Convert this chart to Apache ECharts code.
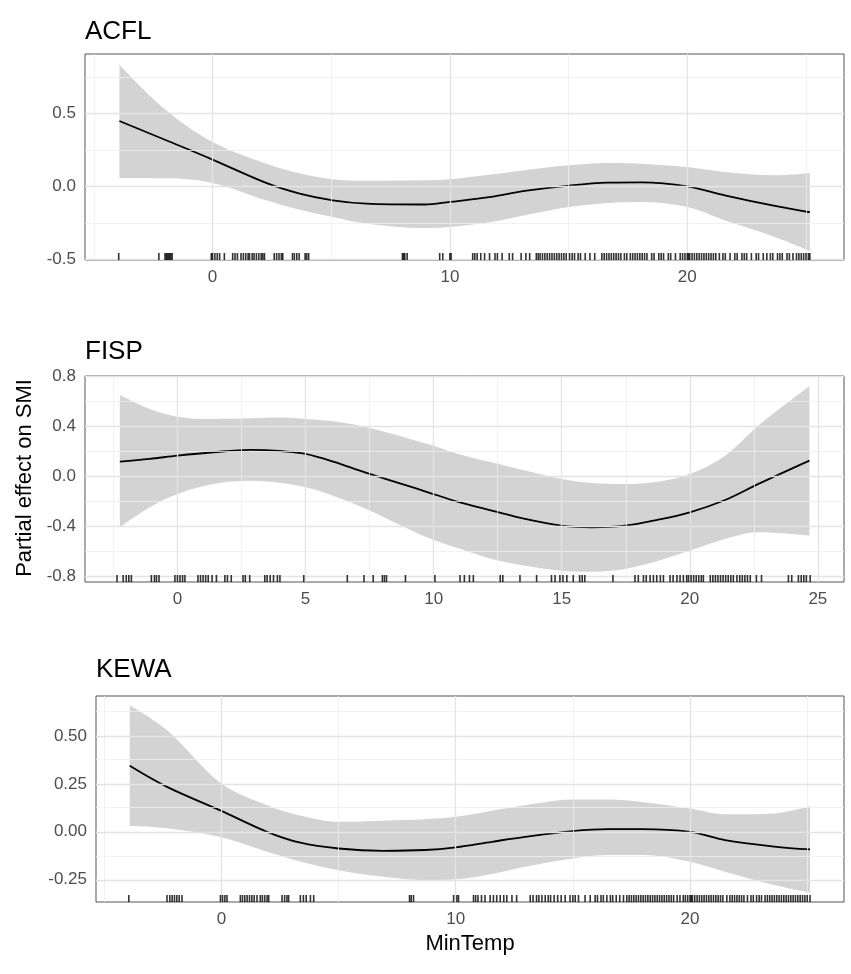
<!DOCTYPE html>
<html><head><meta charset="utf-8">
<script src="https://cdn.jsdelivr.net/npm/echarts@6/dist/echarts.min.js"></script>
<style>html,body{margin:0;padding:0;background:#fff}#c{width:851px;height:974px}</style>
</head><body><div id="c"></div>
<script>
const FONT = '"Liberation Sans", Arial, Helvetica, sans-serif';
const panelTitles = ['ACFL', 'FISP', 'KEWA'];
const xAxisTitle = 'MinTemp';
const yAxisTitle = 'Partial effect on SMI';

// ---- ACFL ----
const acflX     = [-3.92, -1.95, 0, 2.26, 3.67, 5.07, 6.48, 8.93, 10, 11.74, 13.15, 15.02, 16.66, 18.07, 20, 21.58, 23.69, 25.16];
const acflFit   = [0.447, 0.315, 0.183, 0.023, -0.05, -0.096, -0.119, -0.125, -0.107, -0.073, -0.032, 0.005, 0.025, 0.027, 0.0, -0.062, -0.135, -0.178];
const acflUpper = [0.833, 0.52, 0.303, 0.155, 0.09, 0.048, 0.038, 0.041, 0.048, 0.08, 0.11, 0.144, 0.16, 0.155, 0.132, 0.098, 0.075, 0.091];
const acflLower = [0.057, 0.055, 0.023, -0.096, -0.16, -0.21, -0.255, -0.286, -0.279, -0.245, -0.199, -0.142, -0.114, -0.107, -0.142, -0.233, -0.347, -0.443];
const acflRug = [-3.95, -2.26, -2.0, -1.95, -1.9, -1.85, -1.8, -1.75, -1.7, -0.05, 0.0, 0.1, 0.2, 0.3, 0.5, 0.85, 0.95, 1.05, 1.2, 1.3, 1.4, 1.5, 1.56, 1.67, 1.75, 1.85, 1.95, 2.05, 2.12, 2.19, 2.6, 2.7, 2.8, 2.9, 2.96, 3.37, 3.45, 3.55, 3.65, 3.9, 3.97, 4.05, 8.0, 8.05, 8.1, 8.2, 9.57, 9.7, 10.0, 10.05,
  10.96, 11.05, 11.15, 11.3, 11.46, 11.67, 11.9, 12.0, 12.2, 12.5, 12.64, 13.0, 13.2, 13.36, 13.64, 13.72, 13.8, 13.9, 14.0, 14.1, 14.2, 14.3, 14.4, 14.5, 14.6, 14.7, 14.8, 14.9, 15.04, 15.15, 15.25, 15.4, 15.5, 15.7, 15.9, 16.1, 16.4, 16.5, 16.6, 16.7, 16.8, 16.9, 17.0, 17.1, 17.2, 17.35, 17.45, 17.6, 17.7, 17.8, 17.9, 18.0, 18.1, 18.2, 18.3, 18.5, 18.6, 18.8, 18.9, 19.0, 19.2, 19.3, 19.5, 19.7, 19.8, 19.9, 20.0, 20.05, 20.1, 20.2, 20.3, 20.4, 20.5, 20.6, 20.7, 20.8, 20.9, 21.0, 21.1, 21.2, 21.35, 21.5, 21.6, 21.8, 22.0, 22.1, 22.3, 22.4, 22.5, 22.7, 22.9, 23.0, 23.2, 23.35, 23.5, 23.6, 23.8, 23.9, 24.0, 24.2, 24.3, 24.45, 24.6, 24.7, 24.8, 24.9, 25.0, 25.1, 25.16];

// ---- FISP ----
const fispX     = [-2.25, -1.08, 0, 1.39, 2.82, 4.13, 5, 6.08, 7.38, 9.66, 10.96, 12.27, 13.57, 15, 16.17, 17.47, 18.77, 20, 21.38, 22.68, 24.67];
const fispFit   = [0.118, 0.14, 0.166, 0.193, 0.212, 0.201, 0.18, 0.118, 0.027, -0.12, -0.205, -0.275, -0.342, -0.396, -0.409, -0.396, -0.348, -0.289, -0.19, -0.061, 0.126];
const fispUpper = [0.653, 0.541, 0.479, 0.46, 0.465, 0.471, 0.46, 0.441, 0.393, 0.265, 0.18, 0.112, 0.046, -0.021, -0.053, -0.061, -0.043, 0.019, 0.166, 0.407, 0.722];
const fispLower = [-0.409, -0.249, -0.141, -0.061, -0.035, -0.056, -0.088, -0.155, -0.262, -0.483, -0.578, -0.663, -0.717, -0.757, -0.765, -0.743, -0.677, -0.596, -0.502, -0.449, -0.476];
const fispRug = [-2.36, -2.12, -2.0, -1.9, -1.8, -1.02, -0.9, -0.82, -0.72, -0.1, 0.0, 0.1, 0.2, 0.29, 0.8, 0.9, 1.0, 1.1, 1.2, 1.35, 1.52, 1.85, 1.95, 2.1, 2.56, 2.65, 2.82, 3.41, 3.5, 3.62, 3.75, 3.9, 4.0, 4.93, 6.63, 7.28, 7.64, 8.0, 8.08, 8.16, 8.9, 10.05, 11.03, 11.2, 11.4,
  11.55, 12.6, 12.7, 13.37, 14.02, 14.6, 14.74, 14.93, 15.05, 15.2, 15.45, 15.7, 15.8, 15.9, 17.0, 17.86, 17.99, 18.19, 18.3, 18.45, 18.58, 18.71, 18.85, 18.97, 19.23, 19.35, 19.5, 19.62, 19.75, 19.88, 19.95, 20.05, 20.15, 20.25, 20.35, 20.45, 20.53, 20.8, 20.9, 21.0, 21.1, 21.2, 21.3, 21.4, 21.5, 21.6, 21.7, 21.84, 21.95, 22.05, 22.15, 22.25, 22.36, 22.6, 22.8, 23.85, 23.98, 24.24, 24.35, 24.45, 24.55, 24.7];

// ---- KEWA ----
const kewaX     = [-3.91, -2.32, 0, 1.95, 3.37, 5, 6.92, 8.7, 10, 11.54, 12.96, 15, 16.52, 17.94, 20, 21.49, 23.6, 25.12];
const kewaFit   = [0.344, 0.234, 0.109, 0.0, -0.057, -0.087, -0.099, -0.095, -0.081, -0.052, -0.026, 0.004, 0.014, 0.014, 0.0, -0.043, -0.077, -0.092];
const kewaUpper = [0.66, 0.53, 0.252, 0.139, 0.085, 0.052, 0.058, 0.065, 0.078, 0.11, 0.139, 0.169, 0.169, 0.156, 0.122, 0.092, 0.096, 0.134];
const kewaLower = [0.03, 0.018, -0.029, -0.104, -0.155, -0.2, -0.235, -0.252, -0.248, -0.22, -0.182, -0.139, -0.121, -0.121, -0.156, -0.208, -0.278, -0.318];
const kewaRug = [-3.95, -2.32, -2.2, -2.1, -2.0, -1.9, -1.8, -1.68, -0.04, 0.05, 0.15, 0.24, 0.81, 0.9, 1.0, 1.1, 1.2, 1.3, 1.4, 1.52, 1.66, 1.75, 1.85, 1.95, 2.02, 2.59, 2.7, 2.8, 2.87, 3.37, 3.5, 3.62, 3.8, 3.94, 8.03, 8.1, 8.2, 9.91, 10.05, 10.12,
  10.76, 10.85, 10.95, 11.1, 11.25, 11.47, 11.61, 11.75, 11.9, 12.05, 12.18, 12.4, 12.6, 13.18, 13.3, 13.45, 13.55, 13.68, 13.82, 13.95, 14.05, 14.2, 14.35, 14.5, 14.67, 14.88, 15.0, 15.1, 15.24, 15.52, 15.74, 15.95, 16.05, 16.2, 16.3, 16.45, 16.6, 16.7, 16.85, 17.0, 17.16, 17.3, 17.4, 17.5, 17.6, 17.7, 17.8, 17.9, 18.0, 18.1, 18.2, 18.3, 18.4, 18.5, 18.6, 18.7, 18.8, 18.9, 19.0, 19.1, 19.2, 19.3, 19.45, 19.57, 19.71, 19.8, 19.9, 20.0, 20.05, 20.1, 20.2, 20.3, 20.4, 20.5, 20.6, 20.7, 20.8, 20.9, 21.0, 21.1, 21.2, 21.3, 21.4, 21.57, 21.7, 21.8, 21.9, 22.0, 22.1, 22.2, 22.3, 22.45, 22.6, 22.7, 22.84, 22.95, 23.05, 23.2, 23.3, 23.4, 23.5, 23.6, 23.7, 23.8, 23.9, 24.0, 24.1, 24.2, 24.3, 24.4, 24.5, 24.6, 24.7, 24.8, 24.9, 25.0, 25.12];

// ---- tick values ----
const acflXMajor = [0, 10, 20], acflXMinor = [-5, 5, 15, 25];
const acflYMajor = [-0.5, 0, 0.5], acflYMinor = [-0.25, 0.25, 0.75];
const fispXMajor = [0, 5, 10, 15, 20, 25], fispXMinor = [-2.5, 2.5, 7.5, 12.5, 17.5, 22.5];
const fispYMajor = [-0.8, -0.4, 0, 0.4, 0.8], fispYMinor = [-0.6, -0.2, 0.2, 0.6];
const kewaXMajor = [0, 10, 20], kewaXMinor = [-5, 5, 15, 25];
const kewaYMajor = [-0.25, 0, 0.25, 0.5], kewaYMinor = [-0.125, 0.125, 0.375, 0.625];

const panels = [
  { x: acflX, fit: acflFit, up: acflUpper, lo: acflLower, rug: acflRug,
    xMaj: acflXMajor, xMin: acflXMinor, yMaj: acflYMajor, yMin: acflYMinor, yDec: 1,
    grid: { left: 85, top: 54, width: 759, height: 206 }, xr: [-5.37, 26.6], yr: [-0.505, 0.906], titleY: 32 },
  { x: fispX, fit: fispFit, up: fispUpper, lo: fispLower, rug: fispRug,
    xMaj: fispXMajor, xMin: fispXMinor, yMaj: fispYMajor, yMin: fispYMinor, yDec: 1,
    grid: { left: 85, top: 376, width: 759, height: 206 }, xr: [-3.61, 26.02], yr: [-0.848, 0.805], titleY: 352 },
  { x: kewaX, fit: kewaFit, up: kewaUpper, lo: kewaLower, rug: kewaRug,
    xMaj: kewaXMajor, xMin: kewaXMinor, yMaj: kewaYMajor, yMin: kewaYMinor, yDec: 2,
    grid: { left: 96, top: 696, width: 748, height: 206 }, xr: [-5.35, 26.57], yr: [-0.366, 0.708], titleY: 670 }
];

const grids = [], xAxes = [], yAxes = [], series = [], graphics = [];
const labelStyle = { color: '#4d4d4d', fontSize: 17, fontFamily: FONT };
const majorLS = { color: '#e4e4e4', width: 1.3, type: 'solid' };
const minorLS = { color: '#efefef', width: 0.8, type: 'solid' };

panels.forEach((p, i) => {
  grids.push(Object.assign({ show: true, borderColor: '#555', borderWidth: 1, backgroundColor: '#fff' }, p.grid));
  xAxes.push({
    type: 'value', gridIndex: i, min: p.xr[0], max: p.xr[1],
    axisLine: { show: false }, splitLine: { show: false },
    axisTick: { show: true, length: 5, lineStyle: { color: '#333', width: 1 }, customValues: p.xMaj },
    axisLabel: Object.assign({ margin: 9, customValues: p.xMaj, formatter: v => String(Math.round(v)) }, labelStyle)
  });
  yAxes.push({
    type: 'value', gridIndex: i, min: p.yr[0], max: p.yr[1],
    axisLine: { show: false }, splitLine: { show: false },
    axisTick: { show: true, length: 5, lineStyle: { color: '#333', width: 1 }, customValues: p.yMaj },
    axisLabel: Object.assign({ margin: 9, customValues: p.yMaj, formatter: v => Number(v).toFixed(p.yDec) }, labelStyle)
  });
  const gridLines = [];
  p.xMin.forEach(v => gridLines.push({ xAxis: v, lineStyle: minorLS }));
  p.yMin.forEach(v => gridLines.push({ yAxis: v, lineStyle: minorLS }));
  p.xMaj.forEach(v => gridLines.push({ xAxis: v, lineStyle: majorLS }));
  p.yMaj.forEach(v => gridLines.push({ yAxis: v, lineStyle: majorLS }));
  const stackName = 'band' + i;
  // data given as [y, x] so that the y dimension is the stacked one
  series.push({
    type: 'line', xAxisIndex: i, yAxisIndex: i, stack: stackName, stackStrategy: 'all', z: 1,
    encode: { x: 1, y: 0 },
    data: p.x.map((x, k) => [p.lo[k], x]), smooth: 0.35, showSymbol: false, symbol: 'none',
    lineStyle: { opacity: 0 }, silent: true,
    markLine: { silent: true, symbol: ['none', 'none'], label: { show: false }, animation: false, data: gridLines }
  });
  series.push({
    type: 'line', xAxisIndex: i, yAxisIndex: i, stack: stackName, stackStrategy: 'all', z: 3,
    encode: { x: 1, y: 0 },
    data: p.x.map((x, k) => [p.up[k] - p.lo[k], x]), smooth: 0.35, showSymbol: false, symbol: 'none',
    lineStyle: { opacity: 0 }, areaStyle: { color: 'rgba(150,150,150,0.42)', opacity: 1 }, silent: true
  });
  series.push({
    type: 'line', xAxisIndex: i, yAxisIndex: i, z: 4,
    data: p.x.map((x, k) => [x, p.fit[k]]), smooth: 0.35, showSymbol: false, symbol: 'none',
    lineStyle: { color: '#000', width: 1.8 }, silent: true
  });
  series.push({
    type: 'scatter', xAxisIndex: i, yAxisIndex: i, z: 5,
    data: p.rug.map(x => [x, p.yr[0]]), symbol: 'rect', symbolSize: [1.6, 7], symbolOffset: [0, -3.5],
    itemStyle: { color: '#000' }, silent: true
  });
  graphics.push({
    type: 'text', left: p.grid.left, top: p.titleY - 13,
    style: { text: panelTitles[i], fill: '#000', font: '26px ' + FONT }
  });
});

graphics.push({
  type: 'text', x: 25, y: 478, rotation: Math.PI / 2,
  style: { text: yAxisTitle, fill: '#000', font: '22px ' + FONT, align: 'center', verticalAlign: 'middle' }
});
graphics.push({
  type: 'text', x: 470, y: 944,
  style: { text: xAxisTitle, fill: '#000', font: '22px ' + FONT, align: 'center', verticalAlign: 'middle' }
});

const chart = echarts.init(document.getElementById('c'), null, { renderer: 'canvas' });
chart.setOption({
  animation: false, backgroundColor: '#fff',
  grid: grids, xAxis: xAxes, yAxis: yAxes, series: series, graphic: graphics
});
</script></body></html>
